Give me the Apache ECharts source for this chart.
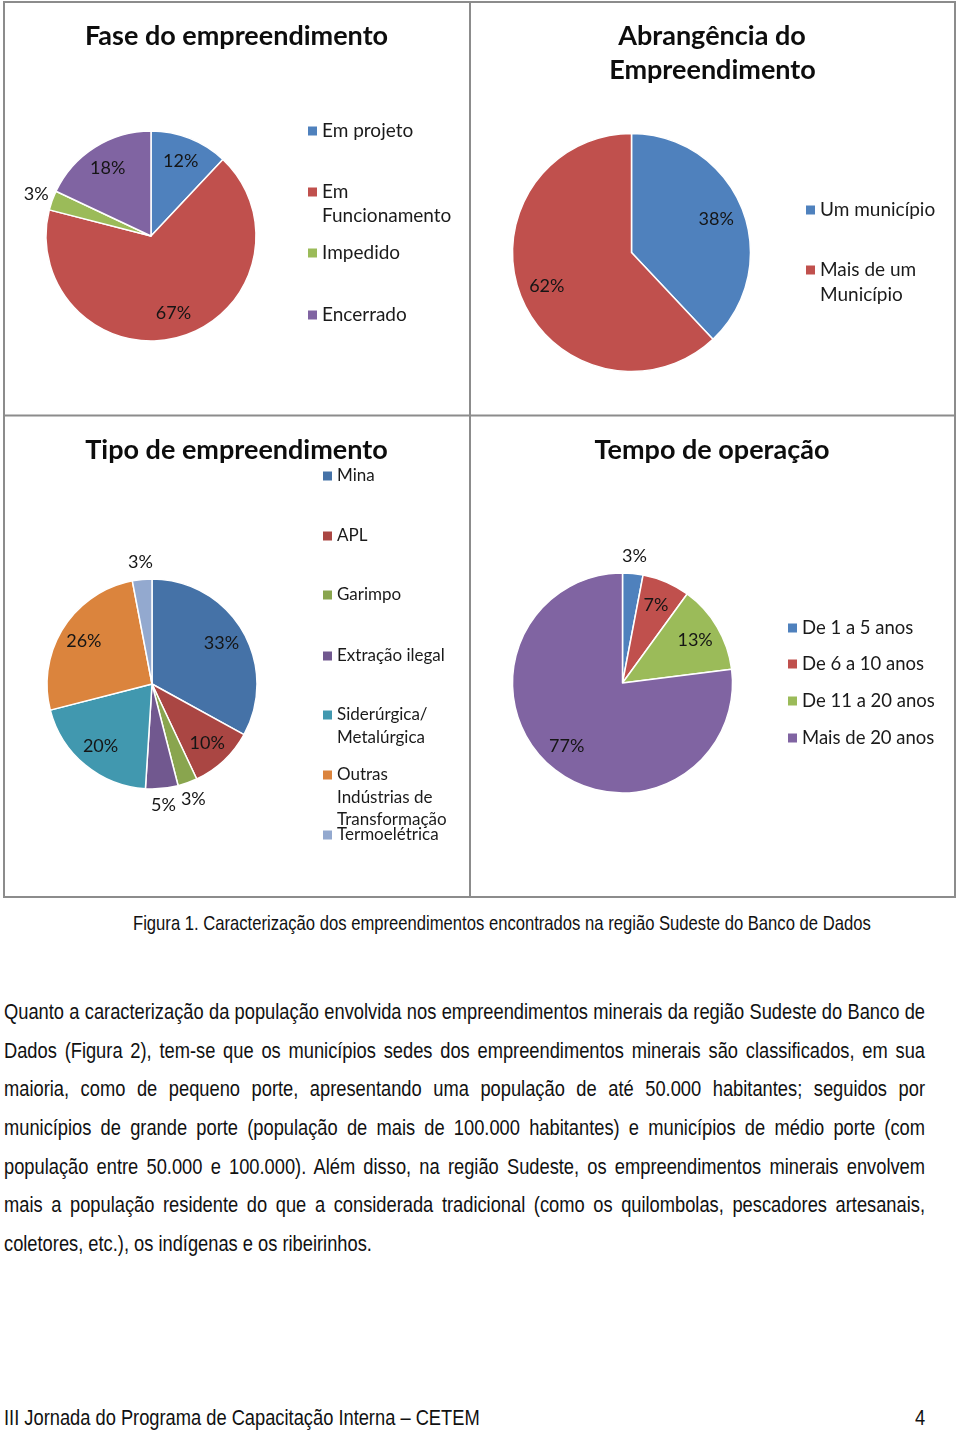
<!DOCTYPE html>
<html>
<head>
<meta charset="utf-8">
<script src="https://cdn.jsdelivr.net/npm/echarts@6/dist/echarts.min.js"></script>
<style>
html,body{margin:0;padding:0;background:#fff;}
#page{position:relative;width:960px;height:1432px;overflow:hidden;background:#fff;}
#chart{position:absolute;left:0;top:0;width:960px;height:905px;}
.nar{position:absolute;font-family:"Liberation Sans Narrow","Arial Narrow","Liberation Sans",Arial,sans-serif;color:#111;white-space:nowrap;line-height:30px;transform-origin:0 50%;}
</style>
</head>
<body>
<div id="page">
  <div id="chart"></div>
  <div id="textlayer"></div>
</div>
<script>
// ---------- DATA ----------
const faseTitle = 'Fase do empreendimento';
const faseCategories = ['Em projeto', 'Em Funcionamento', 'Impedido', 'Encerrado'];
const faseValues = [12, 67, 3, 18];

const abrangTitle = ['Abrangência do', 'Empreendimento'];
const abrangCategories = ['Um município', 'Mais de um Município'];
const abrangValues = [38, 62];

const tipoTitle = 'Tipo de empreendimento';
const tipoCategories = ['Mina', 'APL', 'Garimpo', 'Extração ilegal', 'Siderúrgica/ Metalúrgica', 'Outras Indústrias de Transformação', 'Termoelétrica'];
const tipoValues = [33, 10, 3, 5, 20, 26, 3];

const tempoTitle = 'Tempo de operação';
const tempoCategories = ['De 1 a 5 anos', 'De 6 a 10 anos', 'De 11 a 20 anos', 'Mais de 20 anos'];
const tempoValues = [3, 7, 13, 77];

const legendLines = {
  'Em Funcionamento': ['Em', 'Funcionamento'],
  'Mais de um Município': ['Mais de um', 'Município'],
  'Siderúrgica/ Metalúrgica': ['Siderúrgica/', 'Metalúrgica'],
  'Outras Indústrias de Transformação': ['Outras', 'Indústrias de', 'Transformação']
};

const captionText = 'Figura 1. Caracterização dos empreendimentos encontrados na região Sudeste do Banco de Dados';
const paragraphLines = [
  'Quanto a caracterização da população envolvida nos empreendimentos minerais da região Sudeste do Banco de',
  'Dados (Figura 2), tem-se que os municípios sedes dos empreendimentos minerais são classificados, em sua',
  'maioria, como de pequeno porte, apresentando uma população de até 50.000 habitantes; seguidos por',
  'municípios de grande porte (população de mais de 100.000 habitantes) e municípios de médio porte (com',
  'população entre 50.000 e 100.000). Além disso, na região Sudeste, os empreendimentos minerais envolvem',
  'mais a população residente do que a considerada tradicional (como os quilombolas, pescadores artesanais,',
  'coletores, etc.), os indígenas e os ribeirinhos.'
];
const footerText = 'III Jornada do Programa de Capacitação Interna – CETEM';
const pageNumber = '4';

// ---------- STYLE / LAYOUT ----------
const officeColors = ['#4F81BD', '#C0504D', '#9BBB59', '#8064A2'];
const tipoColors = ['#4572A7', '#AA4643', '#89A54E', '#71588F', '#4198AF', '#DB843D', '#93A9CF'];
const FONT = 'Lato, "Open Sans", sans-serif';

const panels = [
  { cats: faseCategories, vals: faseValues, colors: officeColors, center: [151, 236], r: 105,
    outside: [2], legendX: 308, legendY: [131, 192, 253, 315], lh: 24, fs: 19 },
  { cats: abrangCategories, vals: abrangValues, colors: officeColors, center: [631.5, 252.5], r: 119,
    outside: [], legendX: 806, legendY: [210, 270], lh: 25, fs: 19 },
  { cats: tipoCategories, vals: tipoValues, colors: tipoColors, center: [152, 684], r: 105,
    outside: [2, 3, 6], legendX: 323, legendY: [476, 536, 595, 656, 715, 775, 835], lh: 22.5, fs: 17 },
  { cats: tempoCategories, vals: tempoValues, colors: officeColors, center: [622.5, 683], r: 110,
    outside: [0], legendX: 788, legendY: [628, 664, 701, 738], lh: 24, fs: 18.5 }
];

const titles = [
  { text: faseTitle, x: 236.5, y: 36 },
  { text: abrangTitle[0], x: 712, y: 36 },
  { text: abrangTitle[1], x: 712.5, y: 70 },
  { text: tipoTitle, x: 236.5, y: 450 },
  { text: tempoTitle, x: 712, y: 450 }
];

const series = [];
const legends = [];

panels.forEach(function (p) {
  const base = p.cats.map(function (name, i) {
    return { name: name, value: p.vals[i], itemStyle: { color: p.colors[i] } };
  });
  // visible pie
  series.push({
    type: 'pie', center: p.center, radius: p.r, startAngle: 90, clockwise: true,
    animation: false, silent: true, avoidLabelOverlap: false,
    itemStyle: { borderColor: '#ffffff', borderWidth: 1.5 },
    label: { show: false }, labelLine: { show: false },
    data: base
  });
  // label rings (transparent) used to place the percentage labels
  [[p.r * 0.48, p.r, false], [p.r, p.r + 28, true]].forEach(function (ring) {
    series.push({
      type: 'pie', center: p.center, radius: [ring[0], ring[1]], startAngle: 90, clockwise: true,
      animation: false, silent: true, avoidLabelOverlap: false,
      itemStyle: { color: 'rgba(0,0,0,0)', borderWidth: 0 },
      labelLine: { show: false },
      data: p.cats.map(function (name, i) {
        const isOut = p.outside.indexOf(i) >= 0;
        return { name: name, value: p.vals[i], itemStyle: { color: 'rgba(0,0,0,0)' },
          label: { show: isOut === ring[2], position: 'inside', formatter: '{c}%',
            color: '#151515', fontSize: 18, fontFamily: FONT } };
      })
    });
  });
  // legends, one per item so that spacing follows the original
  p.cats.forEach(function (name, i) {
    const lines = legendLines[name] || [name];
    const n = lines.length;
    const pad = [];
    for (let k = 0; k < n - 1; k++) pad.push(' ');
    const total = 2 * n - 1;
    legends.push({
      data: [name], orient: 'vertical', left: p.legendX, top: p.legendY[i] - total * p.lh / 2,
      padding: 0, itemWidth: 9, itemHeight: 9, icon: 'rect', selectedMode: false,
      itemStyle: { borderWidth: 0 },
      formatter: function () { return pad.concat(lines).join('\n'); },
      textStyle: { fontSize: p.fs, lineHeight: p.lh, color: '#1a1a1a', fontFamily: FONT }
    });
  });
});

const graphics = [
  { type: 'rect', shape: { x: 4, y: 2, width: 951, height: 895 }, style: { fill: 'none', stroke: '#8c8c8c', lineWidth: 2 }, silent: true },
  { type: 'line', shape: { x1: 470, y1: 2, x2: 470, y2: 897 }, style: { stroke: '#8c8c8c', lineWidth: 2 }, silent: true },
  { type: 'line', shape: { x1: 4, y1: 415.5, x2: 955, y2: 415.5 }, style: { stroke: '#8c8c8c', lineWidth: 2 }, silent: true }
];
titles.forEach(function (t) {
  graphics.push({
    type: 'text', x: t.x, y: t.y, silent: true,
    style: { text: t.text, align: 'center', verticalAlign: 'middle', textAlign: 'center', textVerticalAlign: 'middle',
      fontSize: 27, fontWeight: 'bold', fontFamily: FONT, fill: '#0d0d0d' }
  });
});

const chart = echarts.init(document.getElementById('chart'), null, { renderer: 'canvas' });
chart.setOption({
  backgroundColor: '#ffffff',
  animation: false,
  textStyle: { fontFamily: FONT },
  legend: legends,
  series: series,
  graphic: graphics
});

// ---------- TEXT BELOW (narrow face emulated by horizontal scaling) ----------
const NARROW = 0.82;
const layer = document.getElementById('textlayer');
function makeText(text, fontSize, yc) {
  const el = document.createElement('div');
  el.className = 'nar';
  el.textContent = text;
  el.style.fontSize = fontSize + 'px';
  el.style.top = (yc - 15) + 'px';
  el.style.left = '0px';
  layer.appendChild(el);
  return el;
}
function centered(text, fontSize, xc, yc) {
  const el = makeText(text, fontSize, yc);
  const w = el.offsetWidth;
  el.style.left = (xc - w * NARROW / 2) + 'px';
  el.style.transform = 'scaleX(' + NARROW + ')';
}
function leftText(text, fontSize, x, yc) {
  const el = makeText(text, fontSize, yc);
  el.style.left = x + 'px';
  el.style.transform = 'scaleX(' + NARROW + ')';
}
function justified(text, fontSize, x, yc, width, last) {
  const el = makeText(text, fontSize, yc);
  el.style.left = x + 'px';
  const w = el.offsetWidth;
  if (last) {
    el.style.transform = 'scaleX(' + NARROW + ')';
  } else if (w * NARROW <= width) {
    el.style.whiteSpace = 'normal';
    el.style.width = (width / NARROW) + 'px';
    el.style.textAlign = 'justify';
    el.style.textAlignLast = 'justify';
    el.style.transform = 'scaleX(' + NARROW + ')';
  } else {
    el.style.transform = 'scaleX(' + (width / w) + ')';
  }
}

centered(captionText, 20.3, 502, 923);
paragraphLines.forEach(function (line, i) {
  justified(line, 22.3, 4, 1012 + i * 38.67, 921, i === paragraphLines.length - 1);
});
leftText(footerText, 22.3, 4, 1418);
centered(pageNumber, 22.3, 920, 1418);
</script>
</body>
</html>
